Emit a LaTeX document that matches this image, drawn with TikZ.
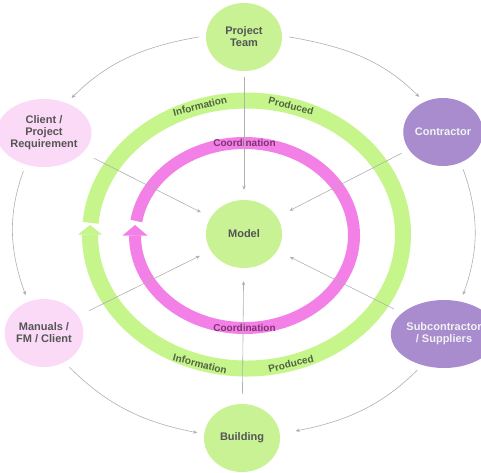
\documentclass[tikz,border=0pt]{standalone}
\usepackage{fontspec}
\setmainfont{Liberation Sans}
\usetikzlibrary{shapes.geometric,arrows.meta}
\definecolor{ngreen}{RGB}{200,242,148}
\definecolor{rgreen}{RGB}{198,245,140}
\definecolor{rpink}{RGB}{242,128,230}
\definecolor{lpink}{RGB}{250,218,246}
\definecolor{purp}{RGB}{168,140,206}
\definecolor{ntext}{RGB}{85,85,85}
\definecolor{gtext}{RGB}{80,100,65}
\definecolor{ptext}{RGB}{128,50,115}
\definecolor{conn}{RGB}{175,175,175}
\begin{document}
\begin{tikzpicture}[x=1pt,y=1pt,
  hub/.style={ellipse, minimum width=76pt, minimum height=68pt, inner sep=0pt,
    align=center, font=\bfseries\fontsize{11}{12}\selectfont, text=ntext},
  gnode/.style={hub, fill=ngreen},
  pnode/.style={hub, fill=lpink},
  vnode/.style={hub, fill=purp, text=white!95!black},
  link/.style={draw=conn, line width=0.6pt, -{Stealth[length=4pt,width=3.5pt]}},
  ringlab/.style={font=\bfseries\fontsize{10}{10}\selectfont, inner sep=0pt,
    text height=7pt, text depth=0pt},
  greenring/.style={draw=rgreen, line width=16pt},
  pinkring/.style={draw=rpink, line width=12pt}]
\useasboundingbox (0,0) rectangle (481,-472);

\coordinate (G) at (246.5,-234.5);
\coordinate (P) at (244.5,-235.5);

% rings
\draw[greenring] ([shift={(175:156.5pt and 134pt)}]G)
  arc[start angle=175, end angle=-180, x radius=156.5pt, y radius=134pt];
\fill[rgreen] (78,-234.5) -- (102,-234.5) -- (90,-225) -- cycle;
\draw[pinkring] ([shift={(171:109.5pt and 92.5pt)}]P)
  arc[start angle=171, end angle=-180, x radius=109.5pt, y radius=92.5pt];
\fill[rpink] (122.5,-235.5) -- (147.5,-235.5) -- (135,-225) -- cycle;

% ring labels
\node[ringlab, text=gtext, rotate=14] (info1) at (200,-106) {Information};
\node[ringlab, text=gtext, rotate=-14] (prod1) at (291,-106) {Produced};
\node[ringlab, text=gtext, rotate=-14] (info2) at (200,-364) {Information};
\node[ringlab, text=gtext, rotate=14] (prod2) at (291,-364) {Produced};
\node[ringlab, text=ptext] (coord1) at (244.5,-143) {Coordination};
\node[ringlab, text=ptext] (coord2) at (244.5,-328) {Coordination};

% nodes
\node[gnode] (team) at (244,-37) {Project\\Team};
\node[gnode] (model) at (244,-234) {Model};
\node[gnode] (building) at (242,-438) {Building};
\node[pnode] (client) at (44,-133) {Client /\\Project\\Requirement};
\node[vnode] (contractor) at (443,-132) {Contractor};
\node[pnode] (manuals) at (44,-333) {Manuals /\\FM / Client};
\node[vnode] (sub) at (444,-334) {Subcontractor\\/ Suppliers};

% outer connectors
\draw[link, shorten <=7pt, shorten >=7pt] (team.178) to[out=190,in=45] (client.53);
\draw[link, shorten <=7pt, shorten >=7pt] (team.2) to[out=-10,in=135] (contractor.122);
\draw[link, shorten <=7pt, shorten >=7pt] (client.240) to[out=250,in=110] (manuals.117);
\draw[link, shorten <=7pt, shorten >=7pt] (contractor.300) to[out=290,in=70] (sub.63);
\draw[link, shorten <=7pt, shorten >=7pt] (manuals.305) to[out=315,in=169] (building.174);
\draw[link, shorten <=7pt, shorten >=16pt] (sub.235) to[out=225,in=11] (building.6);

% connectors to the model
\draw[link, shorten <=6pt, shorten >=10pt] (team) -- (model);
\draw[link, shorten <=12pt, shorten >=11pt] (client) -- (model);
\draw[link, shorten <=8pt, shorten >=14pt] (contractor) -- (model);
\draw[link, shorten <=12pt, shorten >=12pt] (manuals) -- (model);
\draw[link, shorten <=9pt, shorten >=14pt] (sub) -- (model);
\draw[link, shorten <=10pt, shorten >=13pt] (building) -- (model);
\end{tikzpicture}
\end{document}
